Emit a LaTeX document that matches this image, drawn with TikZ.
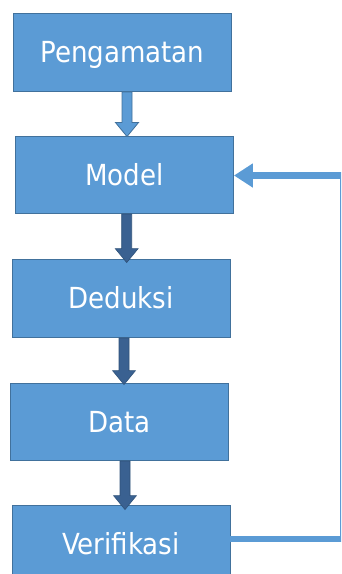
\documentclass[tikz,border=0pt]{standalone}
\usepackage{fontspec}
\setmainfont{DejaVu Sans Condensed}
\usetikzlibrary{arrows.meta,calc}

\definecolor{boxfill}{HTML}{5B9BD5}
\definecolor{boxline}{HTML}{41719C}
\definecolor{darkfill}{HTML}{3A6191}
\definecolor{darkline}{HTML}{2F5279}

% downward block arrow: shaft from #2, tip at the height of #3
\newcommand\blockdown[3]{%
  \path[#1] let \p1=(#2), \p2=(#3) in
    (\x1-5pt,\y1) -- (\x1-5pt,\y2+14pt) -- (\x1-11.5pt,\y2+14pt) -- (\x1,\y2)
    -- (\x1+11.5pt,\y2+14pt) -- (\x1+5pt,\y2+14pt) -- (\x1+5pt,\y1) -- cycle;}

\tikzset{
  stepbox/.style={draw=boxline, line width=0.9pt, fill=boxfill, text=white,
    font=\fontsize{29pt}{34pt}\selectfont, minimum width=218pt,
    inner sep=0pt, text height=21pt, text depth=0pt},
  lightarrow/.style={fill=boxfill, draw=boxline, line width=0.8pt},
  darkarrow/.style={fill=darkfill, draw=darkline, line width=0.6pt},
  feedback/.style={draw=boxfill, line width=6.5pt,
    -{Triangle[length=19pt,width=23pt]}}
}

\begin{document}
\begin{tikzpicture}[x=1pt,y=-1pt]
\useasboundingbox (0,0) rectangle (341,574);
\clip (0,0) rectangle (341,574);

\node[stepbox, minimum height=78pt] (p) at (122.5,52) {Pengamatan};
\node[stepbox, minimum height=77pt] (m) at (124.5,174.5) {Model};
\node[stepbox, minimum height=78pt] (d) at (121,298) {Deduksi};
\node[stepbox, minimum height=77pt] (a) at (119.5,421.5) {Data};
\node[stepbox, minimum height=78pt] (v) at (121,544) {Verifikasi};

% forward arrows between the steps
\blockdown{lightarrow}{$(p.south)+(4.5,0.5)$}{$(m.north)+(0,1)$}
\blockdown{darkarrow}{$(m.south)+(2.2,0.5)$}{$(d.north)+(0,4)$}
\blockdown{darkarrow}{$(d.south)+(3,0.5)$}{$(a.north)+(0,2)$}
\blockdown{darkarrow}{$(a.south)+(5.5,0.5)$}{$(v.north)+(0,5)$}

% feedback loop from verification back to the model
\coordinate (rb) at (343.5,539);
\coordinate (rt) at (343.5,175.5);
\draw[feedback] ($(v.east)+(0,-5)$) -- (rb) -- (rt) -- ($(m.east)+(0,1)$);
\end{tikzpicture}
\end{document}
